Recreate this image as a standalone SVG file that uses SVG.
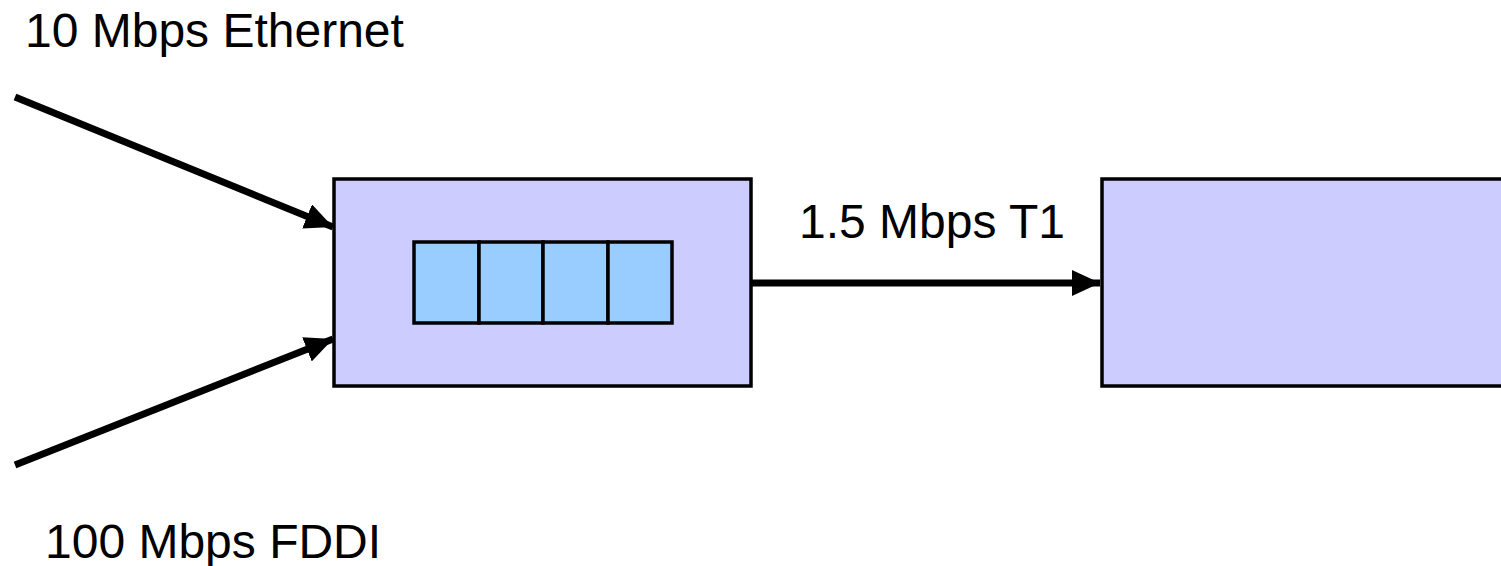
<svg xmlns="http://www.w3.org/2000/svg" width="1501" height="566" viewBox="0 0 1501 566">
  <style>
    .box { fill: #CCCCFF; stroke: #000; stroke-width: 3.5; }
    .cell { fill: #99CCFF; stroke: #000; stroke-width: 3.5; }
    .link { stroke: #000; stroke-width: 7; fill: none; }
    .label { font-family: "Liberation Sans", Arial, sans-serif; font-size: 48px; fill: #000; }
  </style>
  <defs>
    <marker id="arrow" markerUnits="userSpaceOnUse" markerWidth="30" markerHeight="26" refX="28" refY="13" orient="auto">
      <path d="M0,0 L28,13 L0,26 Z" fill="#000"/>
    </marker>
  </defs>
  <rect width="1501" height="566" fill="#fff"/>

  <!-- router with its output queue -->
  <g id="router">
    <rect class="box" x="334" y="179" width="417" height="207"/>
    <g id="queue">
      <rect class="cell" x="414" y="242" width="65" height="81"/>
      <rect class="cell" x="479" y="242" width="64" height="81"/>
      <rect class="cell" x="543" y="242" width="65" height="81"/>
      <rect class="cell" x="608" y="242" width="64" height="81"/>
    </g>
  </g>

  <!-- downstream node -->
  <g id="downstream">
    <rect class="box" x="1102" y="179" width="410" height="207"/>
  </g>

  <!-- links -->
  <g id="connectors">
    <line class="link" x1="15" y1="97" x2="333" y2="227" marker-end="url(#arrow)"/>
    <line class="link" x1="15" y1="465" x2="333" y2="339" marker-end="url(#arrow)"/>
    <line class="link" x1="751" y1="283" x2="1100" y2="283" marker-end="url(#arrow)"/>
  </g>

  <!-- link labels -->
  <g id="labels">
    <text class="label" x="25" y="47">10 Mbps Ethernet</text>
    <text class="label" x="45" y="558">100 Mbps FDDI</text>
    <text class="label" x="799" y="238">1.5 Mbps T1</text>
  </g>
</svg>
